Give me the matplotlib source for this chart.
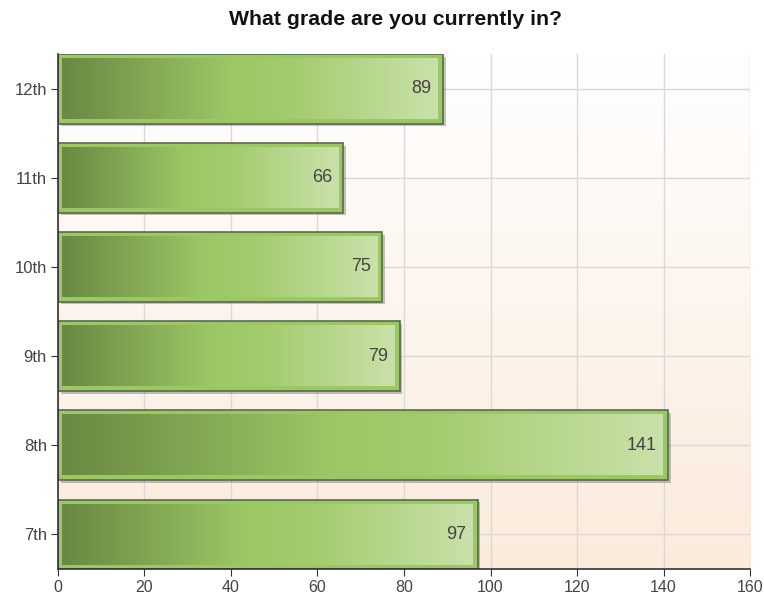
import numpy as np
import matplotlib.pyplot as plt
import matplotlib.patheffects as pe
from matplotlib.colors import LinearSegmentedColormap

# data
grades = ["7th", "8th", "9th", "10th", "11th", "12th"]
counts = [97, 141, 79, 75, 66, 89]
x_ticks = [0, 20, 40, 60, 80, 100, 120, 140, 160]

plt.rcParams['font.family'] = ['Liberation Sans', 'DejaVu Sans']

fig = plt.figure(figsize=(7.64, 5.97), dpi=100)
ax = fig.add_axes([0.0759, 0.0469, 0.9058, 0.8626])
ax.set_xlim(0, 160)
ax.set_ylim(-0.39, len(grades) - 0.61)

# plot area background: white at top fading to light peach at bottom
bg = np.linspace(0, 1, 256).reshape(-1, 1)
bg_cmap = LinearSegmentedColormap.from_list('bg', ['#fbebdb', '#ffffff'])
ax.imshow(bg, cmap=bg_cmap, aspect='auto', extent=[0, 1, 0, 1],
          transform=ax.transAxes, origin='lower', zorder=-2)

# bars with shadow
y = np.arange(len(grades))
bar_h = 0.78
bars = ax.barh(y, counts, height=bar_h, color='#9cc766', edgecolor='#5a6a4a',
               linewidth=1.2, zorder=2)
for b in bars:
    b.set_path_effects([pe.SimplePatchShadow(offset=(2, -2), shadow_rgbFace='#555555', alpha=0.35),
                        pe.Normal()])

# inner gradient of each bar
bar_cmap = LinearSegmentedColormap.from_list(
    'bar', [(0.0, '#6a8843'), (0.45, '#9dc765'), (0.6, '#a3cb6c'), (1.0, '#c9e1aa')])
ax_w_px = fig.get_figwidth() * fig.dpi * 0.9058
ax_h_px = fig.get_figheight() * fig.dpi * 0.8626
dx = 4.5 * 160 / ax_w_px
dy = 4.5 * (len(grades) - 0.22) / ax_h_px
grad = np.linspace(0, 1, 256).reshape(1, -1)
for i, v in enumerate(counts):
    ax.imshow(grad, cmap=bar_cmap, aspect='auto', interpolation='bilinear',
              extent=[dx, v - dx, i - bar_h / 2 + dy, i + bar_h / 2 - dy], zorder=3)
    ax.annotate(str(v), xy=(v, i), xytext=(-8, 0), textcoords='offset points',
                ha='right', va='center', fontsize=13, color='#444444', zorder=4)

ax.set_xlim(0, 160)
ax.set_ylim(-0.39, len(grades) - 0.61)
ax.set_xticks(x_ticks)
ax.set_yticks(y)
ax.set_yticklabels(grades)

ax.grid(color='#d9d9d9', linewidth=1)
ax.set_axisbelow(True)
for s in ['top', 'right']:
    ax.spines[s].set_visible(False)
for s in ['left', 'bottom']:
    ax.spines[s].set_color('#333333')
    ax.spines[s].set_linewidth(1.2)
ax.tick_params(length=5, color='#333333', labelcolor='#444444', labelsize=11.5, pad=3)
ax.tick_params(axis='y', labelsize=12)

fig.text(0.518, 0.968, "What grade are you currently in?", ha='center', va='center',
         fontsize=15.3, fontweight='bold', color='#111111')

fig.savefig("out.png", dpi=100)
